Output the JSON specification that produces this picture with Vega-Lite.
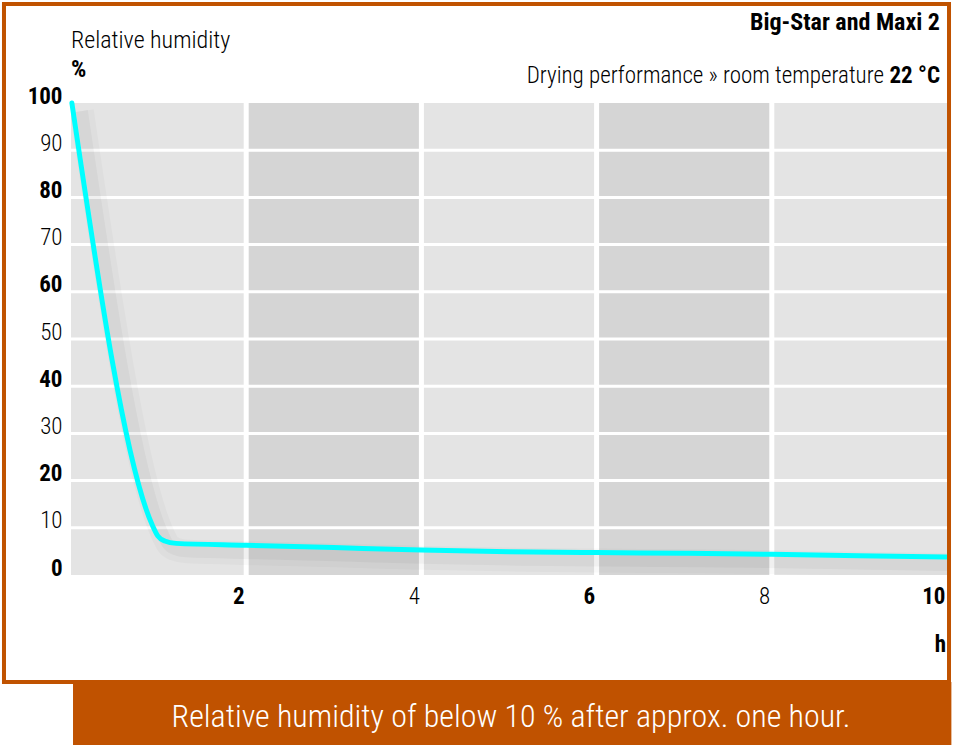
{
  "$schema": "https://vega.github.io/schema/vega-lite/v6.json",
  "width": 876,
  "height": 472,
  "autosize": {"type": "none"},
  "padding": {"left": 71, "top": 103, "right": 7, "bottom": 170},
  "background": "white",
  "config": {
    "view": {"stroke": null},
    "font": "Roboto Condensed, Liberation Sans Narrow, DejaVu Sans Condensed, sans-serif"
  },
  "datasets": {
    "bands": [
      {"start": 0, "end": 2, "shade": "light"},
      {"start": 2, "end": 4, "shade": "dark"},
      {"start": 4, "end": 6, "shade": "light"},
      {"start": 6, "end": 8, "shade": "dark"},
      {"start": 8, "end": 10, "shade": "light"}
    ],
    "hgrid": [{"rh": 10}, {"rh": 20}, {"rh": 30}, {"rh": 40}, {"rh": 50}, {"rh": 60}, {"rh": 70}, {"rh": 80}, {"rh": 90}],
    "vgrid": [{"hours": 2}, {"hours": 4}, {"hours": 6}, {"hours": 8}],
    "curve": [
      {"hours": 0.01, "rh": 100},
      {"hours": 0.93, "rh": 10.5},
      {"hours": 0.99, "rh": 8.3},
      {"hours": 1.07, "rh": 7.2},
      {"hours": 1.2, "rh": 6.7},
      {"hours": 2, "rh": 6.3},
      {"hours": 3, "rh": 5.8},
      {"hours": 4, "rh": 5.3},
      {"hours": 5, "rh": 4.95},
      {"hours": 6, "rh": 4.75},
      {"hours": 7, "rh": 4.6},
      {"hours": 8, "rh": 4.4},
      {"hours": 9, "rh": 4.1},
      {"hours": 10, "rh": 3.8}
    ],
    "one": [{}]
  },
  "layer": [
    {
      "data": {"name": "bands"},
      "mark": {"type": "rect"},
      "encoding": {
        "x": {"field": "start", "type": "quantitative",
              "scale": {"domain": [0, 10], "nice": false, "zero": false},
              "axis": {"values": [2, 4, 6, 8, 10], "format": "d", "title": null, "domain": false, "ticks": false, "tickSize": 0, "grid": false,
                       "labelAlign": "right", "labelOffset": -2, "labelBaseline": "alphabetic", "labelPadding": 28,
                       "labelFontSize": 23, "labelColor": "#000",
                       "labelFontWeight": {"condition": {"test": "datum.value % 4 === 2", "value": "bold"}, "value": 300}}},
        "x2": {"field": "end"},
        "y": {"datum": 0, "type": "quantitative",
              "scale": {"domain": [0, 100], "nice": false, "zero": false},
              "axis": {"values": [0, 10, 20, 30, 40, 50, 60, 70, 80, 90, 100], "format": "d", "title": null, "domain": false, "ticks": false, "tickSize": 0, "grid": false,
                       "labelAlign": "right", "labelBaseline": "alphabetic", "labelPadding": 9,
                       "labelFontSize": 23, "labelColor": "#000",
                       "labelFontWeight": {"condition": {"test": "datum.value % 20 === 0", "value": "bold"}, "value": 300}}},
        "y2": {"datum": 100},
        "color": {"field": "shade", "type": "nominal", "scale": {"domain": ["light", "dark"], "range": ["#e4e4e4", "#d5d5d5"]}, "legend": null}
      }
    },
    {
      "data": {"name": "hgrid"},
      "mark": {"type": "rule", "color": "white", "strokeWidth": 3},
      "encoding": {
        "y": {"field": "rh", "type": "quantitative"},
        "x": {"datum": 0, "type": "quantitative"},
        "x2": {"datum": 10}
      }
    },
    {
      "data": {"name": "vgrid"},
      "mark": {"type": "rule", "color": "white", "strokeWidth": 5},
      "encoding": {
        "x": {"field": "hours", "type": "quantitative"},
        "y": {"datum": 0, "type": "quantitative"},
        "y2": {"datum": 100}
      }
    },
    {
      "data": {"name": "curve"},
      "mark": {"type": "line", "interpolate": "monotone", "stroke": "#000", "strokeWidth": 24, "opacity": 0.025, "xOffset": 10, "yOffset": 8, "clip": true},
      "encoding": {
        "x": {"field": "hours", "type": "quantitative"},
        "y": {"field": "rh", "type": "quantitative"}
      }
    },
    {
      "data": {"name": "curve"},
      "mark": {"type": "line", "interpolate": "monotone", "stroke": "#000", "strokeWidth": 12, "opacity": 0.035, "xOffset": 10, "yOffset": 8, "clip": true},
      "encoding": {
        "x": {"field": "hours", "type": "quantitative"},
        "y": {"field": "rh", "type": "quantitative"}
      }
    },
    {
      "data": {"name": "curve"},
      "mark": {"type": "line", "interpolate": "monotone", "stroke": "#00ffff", "strokeWidth": 5, "strokeCap": "round", "strokeJoin": "round"},
      "encoding": {
        "x": {"field": "hours", "type": "quantitative"},
        "y": {"field": "rh", "type": "quantitative"}
      }
    },
    {
      "data": {"name": "one"},
      "mark": {"type": "rect", "fill": null, "stroke": "#c05200", "strokeWidth": 4},
      "encoding": {
        "x": {"datum": -0.765, "type": "quantitative"},
        "x2": {"datum": 10.023},
        "y": {"datum": 120.97, "type": "quantitative"},
        "y2": {"datum": -22.67}
      }
    },
    {
      "data": {"name": "one"},
      "mark": {"type": "rect", "fill": "#c05200"},
      "encoding": {
        "x": {"datum": 0.023, "type": "quantitative"},
        "x2": {"datum": 10.05},
        "y": {"datum": -22.67, "type": "quantitative"},
        "y2": {"datum": -36.2}
      }
    },
    {
      "data": {"name": "one"},
      "mark": {"type": "text", "text": "Relative humidity of below 10 % after approx. one hour.", "color": "white", "fontSize": 32, "fontWeight": 300, "align": "center", "baseline": "alphabetic"},
      "encoding": {
        "x": {"datum": 5.023, "type": "quantitative"},
        "y": {"datum": -32.3, "type": "quantitative"}
      }
    },
    {
      "data": {"name": "one"},
      "mark": {"type": "text", "text": "Relative humidity", "color": "#000", "fontSize": 24, "fontWeight": 300, "align": "left", "baseline": "alphabetic"},
      "encoding": {
        "x": {"datum": 0, "type": "quantitative"},
        "y": {"datum": 111.65, "type": "quantitative"}
      }
    },
    {
      "data": {"name": "one"},
      "mark": {"type": "text", "text": "%", "color": "#000", "fontSize": 24, "fontWeight": "bold", "align": "left", "baseline": "alphabetic"},
      "encoding": {
        "x": {"datum": 0, "type": "quantitative"},
        "y": {"datum": 105.5, "type": "quantitative"}
      }
    },
    {
      "data": {"name": "one"},
      "mark": {"type": "text", "text": "Big-Star and Maxi 2", "color": "#000", "fontSize": 24, "fontWeight": "bold", "align": "right", "baseline": "alphabetic"},
      "encoding": {
        "x": {"datum": 9.92, "type": "quantitative"},
        "y": {"datum": 115.5, "type": "quantitative"}
      }
    },
    {
      "data": {"name": "one"},
      "mark": {"type": "text", "text": "22 °C", "color": "#000", "fontSize": 23, "fontWeight": "bold", "align": "right", "baseline": "alphabetic"},
      "encoding": {
        "x": {"datum": 9.92, "type": "quantitative"},
        "y": {"datum": 104.2, "type": "quantitative"}
      }
    },
    {
      "data": {"name": "one"},
      "mark": {"type": "text", "text": "Drying performance » room temperature", "color": "#000", "fontSize": 23, "fontWeight": 300, "align": "right", "baseline": "alphabetic"},
      "encoding": {
        "x": {"datum": 9.28, "type": "quantitative"},
        "y": {"datum": 104.2, "type": "quantitative"}
      }
    },
    {
      "data": {"name": "one"},
      "mark": {"type": "text", "text": "h", "color": "#000", "fontSize": 23, "fontWeight": "bold", "align": "right", "baseline": "alphabetic"},
      "encoding": {
        "x": {"datum": 9.989, "type": "quantitative"},
        "y": {"datum": -16.3, "type": "quantitative"}
      }
    }
  ]
}
